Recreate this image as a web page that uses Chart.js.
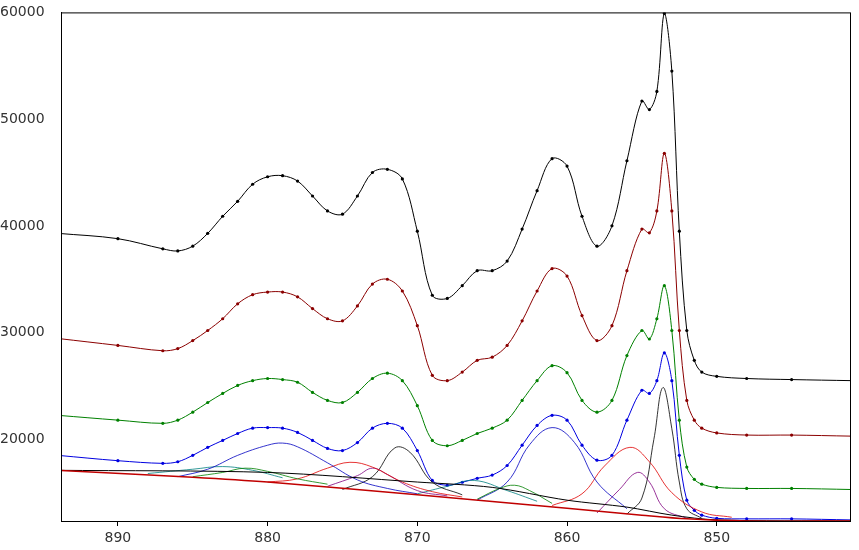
<!DOCTYPE html>
<html><head><meta charset="utf-8">
<script src="https://cdn.jsdelivr.net/npm/chart.js@4/dist/chart.umd.min.js"></script>
<style>html,body{margin:0;padding:0;background:#fff}#w{width:859px;height:550px}</style>
</head><body><div id="w"><canvas id="c"></canvas></div>
<script>
const energies = [894,890,887,886,885,884,883,882,881,880,879,878,877,876,875,874,873,872,871,870,869,868,867,866,865,864,863,862,861,860,859,858,857,856,855,854.5,854,853.5,853,852.5,852,851.5,851,850,848,845,841];
const specBlack = [39300,38800,37850,37650,38100,39300,40900,42300,43900,44600,44700,44200,42800,41400,41100,42800,45000,45300,44400,39500,33500,33200,34400,35800,35800,36700,39700,43300,46300,45600,40900,38100,40000,46100,51700,50900,52600,59900,54500,39500,30200,27400,26300,25900,25700,25600,25500];
const specRed = [29450,28800,28300,28500,29250,30200,31300,32700,33550,33800,33800,33350,32250,31300,31100,32500,34550,35000,33900,30650,26000,25500,26300,27400,27700,28800,31100,33900,36000,35300,31600,29250,30650,35800,39700,39350,41400,46800,41400,30200,23650,21800,21050,20600,20400,20400,20300];
const specGreen = [22250,21800,21500,21800,22550,23450,24300,25050,25500,25700,25600,25350,24400,23650,23450,24400,25700,26200,25500,23150,19900,19400,19900,20550,21050,21800,23650,25500,26900,26250,23650,22550,23650,27850,30200,29400,31300,34400,30200,21800,17400,16250,15800,15500,15400,15400,15300];
const specBlue = [18500,18000,17750,17900,18500,19250,19900,20550,21050,21100,21050,20650,19900,19150,18950,19700,21050,21500,21050,18950,16150,15700,15980,16350,16650,17550,19450,21300,22250,21800,19450,18050,18500,21800,24600,24300,25500,28100,25500,18500,14300,13350,12900,12600,12550,12550,12450];
const bgE = [894,885,880,870,860,855,852,848,841];
const bgLow = [17100,16450,16000,14800,13550,12900,12550,12350,12350];
const bgHighE = [894,880,870,865,860,856,853,850,841];
const bgHigh = [17100,16900,16000,15500,14300,13650,12900,12450,12350];
const comps = [
 {c:'#0000c0',e:[886,884,882,880,879,878,876,874,872,870],v:[16500,17200,18500,19450,19650,19300,17800,16200,15400,14900]},
 {c:'#008000',e:[885,883,881.5,880,878,876],v:[16500,16900,17300,17000,16300,15800]},
 {c:'#008080',e:[888,885,883,881,879],v:[16800,17200,17450,17100,16400]},
 {c:'#e00000',e:[880,878,876,874.5,873,871,869,867],v:[16000,16300,17300,17850,17400,16000,15100,14600]},
 {c:'#800080',e:[876,874,873,872,870,868],v:[15600,16600,17300,16700,15200,14700]},
 {c:'#000000',e:[875,873,871.5,870.5,869,867],v:[15300,16500,19200,18800,16000,14800]},
 {c:'#008080',e:[870,868,866.2,864,862],v:[14900,15600,16150,15200,14200]},
 {c:'#008000',e:[866,864.5,863.5,862.5,861],v:[14400,15400,15700,15200,14000]},
 {c:'#0000c0',e:[866,864,862.5,861,859.5,858,856],v:[14300,16000,19500,21100,19700,16000,13500]},
 {c:'#e00000',e:[861,859,857.5,855.8,854.5,853,851,849],v:[13800,14900,17500,19250,17900,15000,13200,12700]},
 {c:'#800080',e:[858,856.5,855.3,854.5,853.5,852],v:[13100,15300,16900,16000,13500,12600]},
 {c:'#000000',e:[856,855,854.2,853.6,853,852.5,852,851],v:[13000,14500,20000,24850,21000,16000,13500,12600]}
];
const xTicks = [890,880,870,860,850];
const yTicks = [20000,30000,40000,50000,60000];

const pts = (e,v)=>e.map((x,i)=>({x:x,y:v[i]}));
const ds = [];
ds.push({data:pts(bgE,bgLow),borderColor:'#c00000',borderWidth:1.5,pointRadius:0,tension:0.3});
ds.push({data:pts(bgHighE,bgHigh),borderColor:'#000',borderWidth:1,pointRadius:0,tension:0.3});
comps.forEach(k=>ds.push({data:pts(k.e,k.v),borderColor:k.c,borderWidth:0.8,pointRadius:0,tension:0.4}));
[[specBlack,'#000'],[specRed,'#8b0000'],[specGreen,'#008000'],[specBlue,'#0000e0']].forEach(([v,c])=>{
  ds.push({data:pts(energies,v),borderColor:c,backgroundColor:c,borderWidth:1,pointRadius:1.6,pointBorderWidth:0,tension:0.35});
});
const frame={id:'frame',afterDraw(ch){const a=ch.chartArea,x=ch.ctx;x.save();x.strokeStyle='#000';x.lineWidth=1;x.strokeRect(a.left+0.5,a.top+0.5,a.right-a.left,a.bottom-a.top);x.restore();}};
new Chart(document.getElementById('c'),{type:'line',data:{datasets:ds},plugins:[frame],
options:{responsive:true,maintainAspectRatio:false,animation:false,
layout:{padding:{left:0,right:9,top:11,bottom:0}},
plugins:{legend:{display:false},tooltip:{enabled:false}},
scales:{
 x:{type:'linear',reverse:true,min:841.1,max:893.8,
   afterBuildTicks:s=>{s.ticks=xTicks.map(v=>({value:v}));},
   afterFit:s=>{s.height=29;},
   grid:{display:true,drawOnChartArea:false,tickLength:5,color:'#000'},
   border:{color:'#000'},
   ticks:{color:'#333',font:{size:14,family:'DejaVu Sans'},padding:4,callback:v=>String(v)}},
 y:{type:'linear',min:12350,max:60000,
   afterBuildTicks:s=>{s.ticks=yTicks.map(v=>({value:v}));},
   afterFit:s=>{s.width=61;},
   grid:{display:false},
   border:{color:'#000'},
   ticks:{color:'#333',font:{size:14,family:'DejaVu Sans'},crossAlign:'far',padding:4,callback:v=>String(v)}}
}}});
</script></body></html>
